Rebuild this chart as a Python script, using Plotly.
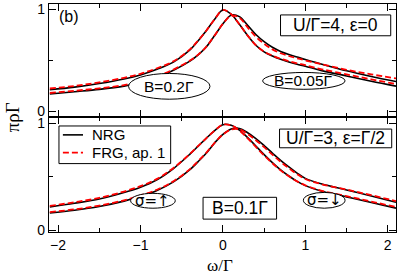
import plotly.graph_objects as go
from plotly.subplots import make_subplots

omega = [-2.1, -1.8, -1.5, -1.2, -1.0, -0.8, -0.6, -0.4, -0.3, -0.2, -0.1, 0.0,
         0.1, 0.2, 0.3, 0.4, 0.5, 0.6, 0.7, 0.8, 0.9, 1.0, 1.2, 1.5, 1.8, 2.1]

# top panel (U/Γ=4, ε=0)
top_nrg_a = [0.21, 0.235, 0.27, 0.315, 0.355, 0.41, 0.48, 0.60, 0.69, 0.79, 0.90, 0.99,
             0.95, 0.85, 0.74, 0.645, 0.58, 0.54, 0.508, 0.482, 0.46, 0.44, 0.397, 0.345, 0.293, 0.245]
top_frg_a = [0.222, 0.247, 0.282, 0.327, 0.366, 0.42, 0.488, 0.605, 0.692, 0.79, 0.90, 0.99,
             0.95, 0.85, 0.74, 0.645, 0.583, 0.545, 0.513, 0.489, 0.468, 0.45, 0.41, 0.36, 0.312, 0.265]
top_nrg_b = [0.168, 0.19, 0.213, 0.245, 0.28, 0.33, 0.40, 0.49, 0.55, 0.63, 0.74, 0.855,
             0.94, 0.925, 0.84, 0.75, 0.68, 0.625, 0.585, 0.555, 0.53, 0.505, 0.46, 0.395, 0.34, 0.29]
top_frg_b = [0.178, 0.20, 0.223, 0.255, 0.29, 0.34, 0.408, 0.495, 0.553, 0.632, 0.742, 0.855,
             0.935, 0.915, 0.82, 0.728, 0.66, 0.605, 0.567, 0.54, 0.518, 0.497, 0.46, 0.405, 0.36, 0.32]

# bottom panel (U/Γ=3, ε=Γ/2)
bot_nrg_dn = [0.215, 0.25, 0.29, 0.35, 0.40, 0.47, 0.575, 0.71, 0.785, 0.86, 0.93, 0.985,
              0.98, 0.935, 0.865, 0.785, 0.705, 0.63, 0.562, 0.505, 0.455, 0.415, 0.362, 0.31, 0.258, 0.205]
bot_frg_dn = [0.225, 0.26, 0.30, 0.36, 0.41, 0.478, 0.58, 0.712, 0.786, 0.86, 0.93, 0.985,
              0.978, 0.93, 0.858, 0.777, 0.698, 0.624, 0.558, 0.503, 0.455, 0.418, 0.367, 0.317, 0.266, 0.215]
bot_nrg_up = [0.16, 0.185, 0.22, 0.27, 0.315, 0.37, 0.45, 0.565, 0.64, 0.72, 0.815, 0.895,
              0.945, 0.95, 0.91, 0.855, 0.79, 0.72, 0.652, 0.59, 0.532, 0.483, 0.43, 0.375, 0.318, 0.26]
bot_frg_up = [0.168, 0.193, 0.228, 0.278, 0.323, 0.377, 0.456, 0.57, 0.645, 0.724, 0.816, 0.893,
              0.94, 0.942, 0.898, 0.84, 0.775, 0.705, 0.638, 0.578, 0.522, 0.477, 0.428, 0.378, 0.326, 0.27]

x_ticks = [-2, -1, 0, 1, 2]
y_ticks = [0, 1]

fig = make_subplots(rows=2, cols=1, shared_xaxes=True, vertical_spacing=0)

black = dict(color="black", width=1.6, shape="spline", smoothing=1.0)
red = dict(color="#ff0000", width=1.8, dash="6px,3px", shape="spline", smoothing=1.0)

for ys, ln, name, row in [
    (top_nrg_a, black, "NRG", 1), (top_nrg_b, black, "NRG", 1),
    (top_frg_a, red, "FRG, ap. 1", 1), (top_frg_b, red, "FRG, ap. 1", 1),
    (bot_nrg_dn, black, "NRG", 2), (bot_nrg_up, black, "NRG", 2),
    (bot_frg_dn, red, "FRG, ap. 1", 2), (bot_frg_up, red, "FRG, ap. 1", 2),
]:
    fig.add_trace(go.Scatter(x=omega, y=ys, mode="lines", line=ln, name=name,
                             showlegend=False, hoverinfo="skip"), row=row, col=1)

axis_common = dict(showline=True, linecolor="black", linewidth=1.2, mirror="ticks",
                   ticks="inside", ticklen=7, tickwidth=1, tickcolor="black",
                   showgrid=False, zeroline=False,
                   minor=dict(ticks="inside", ticklen=4, tickcolor="black", dtick=0.5),
                   tickfont=dict(family="Liberation Sans, Arial", size=14, color="black"))

fig.update_xaxes(range=[-2.11, 2.1], tickvals=x_ticks, **axis_common)
fig.update_xaxes(showticklabels=False, row=1, col=1)
fig.update_yaxes(tickvals=y_ticks, **axis_common)
fig.update_yaxes(range=[-0.058, 1.049], domain=[0.504, 1.0], row=1, col=1)
fig.update_yaxes(range=[-0.0185, 1.056], domain=[0.0, 0.504], row=2, col=1)

sans = "Liberation Sans, Arial"
serif = "Liberation Serif, Times New Roman"
box_font = dict(family=sans, size=17.5, color="black")
ell_font = dict(family=sans, size=15.5, color="black")
sigma_font = dict(family="DejaVu Sans", size=15, color="black")

annotations = [
    dict(text="(b)", xref="paper", yref="paper", x=0.024, y=0.946, xanchor="left", yanchor="middle",
         showarrow=False, font=dict(family=sans, size=16, color="black")),
    dict(text="U/Γ=4, ε=0", xref="x", yref="y", x=1.367, y=0.84, showarrow=False, font=box_font),
    dict(text="U/Γ=3, ε=Γ/2", xref="x2", yref="y2", x=1.367, y=0.856, showarrow=False, font=box_font),
    dict(text="B=0.1Γ", xref="x2", yref="y2", x=0.205, y=0.204, showarrow=False, font=box_font),
    dict(text="B=0.2Γ", xref="x", yref="y", x=-0.65, y=0.243, showarrow=False, font=ell_font),
    dict(text="B=0.05Γ", xref="x", yref="y", x=0.98, y=0.296, showarrow=False, font=ell_font),
    dict(text="σ=↑", xref="x2", yref="y2", x=-0.85, y=0.273, showarrow=False, font=sigma_font),
    dict(text="σ=↓", xref="x2", yref="y2", x=1.23, y=0.278, showarrow=False, font=sigma_font),
    dict(text="NRG", xref="paper", yref="paper", x=0.118, y=0.426, xanchor="left", yanchor="middle",
         showarrow=False, font=dict(family=sans, size=15, color="black")),
    dict(text="FRG, ap. 1", xref="paper", yref="paper", x=0.118, y=0.348, xanchor="left", yanchor="middle",
         showarrow=False, font=dict(family=sans, size=15, color="black")),
    dict(text="πρΓ", xref="paper", yref="paper", x=-0.106, y=0.504, textangle=-90,
         showarrow=False, xanchor="center", yanchor="middle",
         font=dict(family=serif, size=19, color="black")),
    dict(text="ω/Γ", xref="paper", yref="paper", x=0.494, y=-0.148,
         showarrow=False, xanchor="center", yanchor="middle",
         font=dict(family=serif, size=17, color="black")),
]

ln1 = dict(color="black", width=1)
shapes = [
    # boxed labels
    dict(type="rect", xref="x", yref="y", x0=0.699, x1=2.036, y0=0.738, y1=0.942,
         line=ln1, fillcolor="white", layer="above"),
    dict(type="rect", xref="x2", yref="y2", x0=0.687, x1=2.048, y0=0.769, y1=0.944,
         line=ln1, fillcolor="white", layer="above"),
    dict(type="rect", xref="x2", yref="y2", x0=-0.241, x1=0.651, y0=0.102, y1=0.306,
         line=ln1, fillcolor="white", layer="above"),
    # ellipses
    dict(type="circle", xref="x", yref="y", x0=-1.145, x1=-0.157, y0=0.117, y1=0.369,
         line=ln1, fillcolor="white", layer="above"),
    dict(type="circle", xref="x", yref="y", x0=0.482, x1=1.482, y0=0.214, y1=0.379,
         line=ln1, fillcolor="white", layer="above"),
    dict(type="circle", xref="x2", yref="y2", x0=-1.12, x1=-0.578, y0=0.204, y1=0.343,
         line=ln1, fillcolor="white", layer="above"),
    dict(type="circle", xref="x2", yref="y2", x0=0.976, x1=1.482, y0=0.204, y1=0.352,
         line=ln1, fillcolor="white", layer="above"),
    # legend box and samples
    dict(type="rect", xref="paper", yref="paper", x0=0.0287, x1=0.3506, y0=0.30, y1=0.465,
         line=ln1, fillcolor="white", layer="above"),
    dict(type="line", xref="paper", yref="paper", x0=0.040, x1=0.098, y0=0.426, y1=0.426,
         line=dict(color="black", width=1.6), layer="above"),
    dict(type="line", xref="paper", yref="paper", x0=0.040, x1=0.098, y0=0.348, y1=0.348,
         line=dict(color="#ff0000", width=1.8, dash="6px,3px"), layer="above"),
]

fig.update_layout(
    width=399, height=276,
    margin=dict(l=49, r=2, t=2, b=44),
    paper_bgcolor="white", plot_bgcolor="white",
    annotations=annotations, shapes=shapes,
    showlegend=False, hovermode=False,
)

fig.write_html("out.html", config={"displayModeBar": False, "staticPlot": True},
               post_script="document.body.style.margin='0';document.body.style.padding='0';")
